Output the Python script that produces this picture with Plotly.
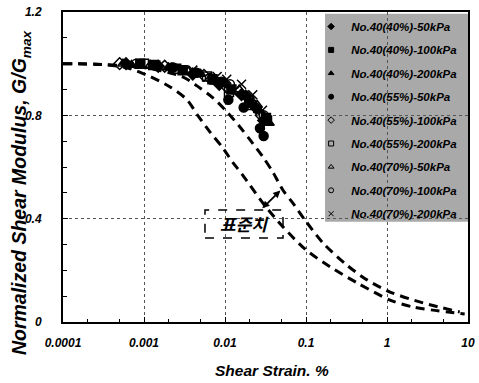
import plotly.graph_objects as go

# ---- data ----
upper_x = [0.0001, 0.0003, 0.001, 0.003, 0.0049, 0.0071, 0.0106, 0.0153, 0.0204, 0.0294,
           0.039, 0.052, 0.069, 0.097, 0.162, 0.32, 0.566, 1.09, 2.78, 7.9]
upper_y = [1.0, 0.997, 0.985, 0.949, 0.906, 0.868, 0.813, 0.755, 0.705, 0.639,
           0.58, 0.51, 0.46, 0.395, 0.306, 0.22, 0.163, 0.116, 0.074, 0.039]
lower_x = [0.0001, 0.0003, 0.0006, 0.00106, 0.0021, 0.0034, 0.0046, 0.0065, 0.0092, 0.0126,
           0.016, 0.0294, 0.052, 0.10, 0.2, 0.43, 1.09, 2.1, 9.1]
lower_y = [1.0, 0.997, 0.985, 0.957, 0.91, 0.86, 0.80, 0.736, 0.678, 0.616,
           0.575, 0.46, 0.368, 0.279, 0.213, 0.151, 0.085, 0.058, 0.031]

series_names = ["No.40(40%)-50kPa", "No.40(40%)-100kPa", "No.40(40%)-200kPa",
                "No.40(55%)-50kPa", "No.40(55%)-100kPa", "No.40(55%)-200kPa",
                "No.40(70%)-50kPa", "No.40(70%)-100kPa", "No.40(70%)-200kPa"]
s1_x = [0.0006, 0.0015, 0.004, 0.0085, 0.016, 0.024, 0.030]
s1_y = [1.0, 0.99, 0.96, 0.92, 0.88, 0.83, 0.78]
s2_x = [0.0009, 0.0013, 0.003, 0.007, 0.012, 0.020, 0.032]
s2_y = [1.0, 0.995, 0.975, 0.94, 0.90, 0.85, 0.79]
s3_x = [0.0007, 0.002, 0.005, 0.010, 0.018, 0.026, 0.035]
s3_y = [0.995, 0.985, 0.96, 0.92, 0.88, 0.82, 0.77]
s4_x = [0.0023, 0.0045, 0.009, 0.011, 0.017, 0.027, 0.030]
s4_y = [0.985, 0.965, 0.93, 0.86, 0.83, 0.75, 0.72]
s5_x = [0.0005, 0.0018, 0.0055, 0.0105, 0.019, 0.028]
s5_y = [1.0, 0.99, 0.955, 0.91, 0.87, 0.80]
s6_x = [0.001, 0.0025, 0.006, 0.0112, 0.021, 0.033]
s6_y = [1.0, 0.98, 0.95, 0.89, 0.84, 0.78]
s7_x = [0.00055, 0.0012, 0.0035, 0.0075, 0.015, 0.025]
s7_y = [1.0, 0.995, 0.97, 0.93, 0.90, 0.84]
s8_x = [0.0008, 0.0022, 0.0065, 0.0115, 0.020, 0.030]
s8_y = [1.0, 0.985, 0.945, 0.92, 0.86, 0.80]
s9_x = [0.0014, 0.004, 0.008, 0.0105, 0.016, 0.022, 0.029]
s9_y = [0.995, 0.975, 0.95, 0.94, 0.92, 0.88, 0.82]
series_x = [s1_x, s2_x, s3_x, s4_x, s5_x, s6_x, s7_x, s8_x, s9_x]
series_y = [s1_y, s2_y, s3_y, s4_y, s5_y, s6_y, s7_y, s8_y, s9_y]
symbols = ["diamond", "square", "triangle-up", "circle", "diamond-open",
           "square-open", "triangle-up-open", "circle-open", "x-thin-open"]

x_ticks = [0.0001, 0.001, 0.01, 0.1, 1, 10]
x_tick_text = ["0.0001", "0.001", "0.01", "0.1", "1", "10"]
y_ticks = [0, 0.4, 0.8, 1.2]
y_tick_text = ["0", "0.4", "0.8", "1.2"]

# standard-range label box (x in data units, y in G/Gmax)
box_x = [0.00566, 0.052]
box_y = [0.325, 0.434]

FONT = "Liberation Sans, Arial, sans-serif"

fig = go.Figure()

for cx, cy in [(upper_x, upper_y), (lower_x, lower_y)]:
    fig.add_trace(go.Scatter(x=cx, y=cy, mode="lines", showlegend=False,
                             line=dict(color="black", width=3, dash="9px,6px", shape="spline", smoothing=0.8),
                             hoverinfo="skip"))

for i, (nm, sx, sy, sym) in enumerate(zip(series_names, series_x, series_y, symbols)):
    fig.add_trace(go.Scatter(x=sx, y=sy, mode="markers", name=nm, legendgroup=f"g{i}",
                             showlegend=False,
                             marker=dict(symbol=sym, size=9, color="black",
                                         line=dict(color="black", width=1.5))))
    # legend entry with a small symbol, as in the reference
    fig.add_trace(go.Scatter(x=[None], y=[None], mode="markers", name=nm, legendgroup=f"g{i}",
                             marker=dict(symbol=sym, size=5, color="black",
                                         line=dict(color="black", width=1))))

fig.update_layout(
    width=479, height=383,
    margin=dict(l=63, r=11, t=12, b=61),
    paper_bgcolor="white", plot_bgcolor="white",
    font=dict(family=FONT, color="black", size=11),
    legend=dict(x=0.988, y=1.0, xanchor="right", yanchor="top",
                bgcolor="rgba(0,0,0,0)", borderwidth=0, maxheight=360,
                font=dict(family=FONT, size=11.5, color="black", weight="bold", style="italic"),
                itemsizing="trace", itemwidth=30, tracegroupgap=4.4,
                traceorder="grouped"),
    xaxis=dict(type="log", range=[-4, 1], tickvals=x_ticks, ticktext=x_tick_text,
               showgrid=True, gridcolor="#555555", griddash="dot", gridwidth=1,
               showline=True, linecolor="black", linewidth=2, mirror=True,
               ticks="inside", ticklen=5, tickcolor="black", ticklabelstandoff=9,
               minor=dict(ticks="inside", ticklen=3, tickcolor="black", showgrid=False),
               tickfont=dict(family=FONT, size=12, weight="bold", style="italic"),
               automargin=False, zeroline=False),
    yaxis=dict(range=[0, 1.2], tickvals=y_ticks, ticktext=y_tick_text,
               showgrid=True, gridcolor="#555555", griddash="dot", gridwidth=1,
               showline=True, linecolor="black", linewidth=2, mirror=True,
               ticks="inside", ticklen=5, tickcolor="black", ticklabelstandoff=17,
               minor=dict(dtick=0.1, ticks="inside", ticklen=4, tickcolor="black", showgrid=False),
               tickfont=dict(family=FONT, size=12, weight="bold", style="italic"),
               automargin=False, zeroline=False),
)

# gray legend panel
fig.add_shape(type="rect", xref="paper", yref="paper", x0=0.647, x1=1.0, y0=0.323, y1=0.994,
              fillcolor="#a9a9a9", line=dict(width=0), layer="below")

# axis titles
fig.add_annotation(xref="paper", yref="paper", x=0.516, y=-0.158, xanchor="center", yanchor="middle",
                   text="<b><i>Shear Strain. %</i></b>", showarrow=False,
                   font=dict(family=FONT, size=15.5, color="black"))
fig.add_annotation(xref="paper", yref="paper", x=-0.103, y=0.42, xanchor="center", yanchor="middle",
                   text="<b><i>Normalized Shear Modulus, G/G<sub>max</sub></i></b>", textangle=-90,
                   showarrow=False, font=dict(family=FONT, size=19.5, color="black"))

# standard-range box and arrow
fig.add_shape(type="rect", xref="x", yref="y", x0=box_x[0], x1=box_x[1], y0=box_y[0], y1=box_y[1],
              line=dict(color="black", width=1.5, dash="dash"))
fig.add_annotation(x=-1.76, y=0.38, xref="x", yref="y", text="<b><i>표준치</i></b>",
                   showarrow=False, font=dict(family="Noto Sans CJK KR", size=17, color="black"))
fig.add_annotation(x=-1.54, y=0.44, ax=-1.28, ay=0.52, xref="x", yref="y", axref="x", ayref="y",
                   text=" ", showarrow=True, arrowhead=2, startarrowhead=2, arrowside="end+start",
                   arrowsize=0.8, startarrowsize=0.8, standoff=0, startstandoff=0,
                   arrowwidth=1.8, arrowcolor="black")

fig.write_html("out.html")
